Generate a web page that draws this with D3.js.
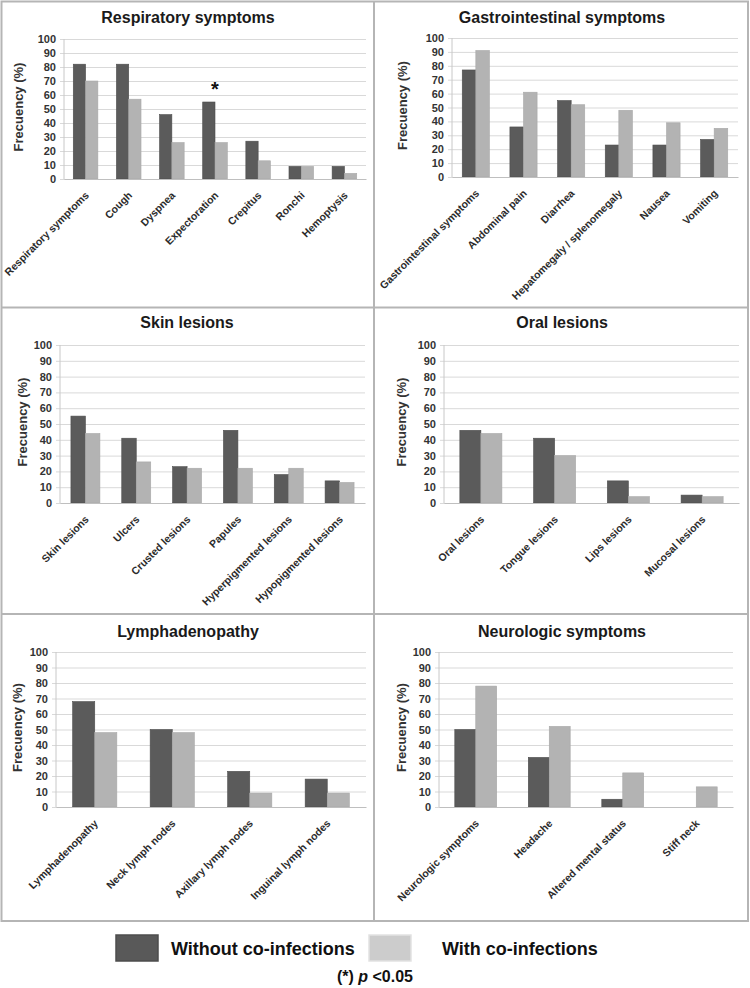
<!DOCTYPE html>
<html><head><meta charset="utf-8">
<script src="https://cdn.jsdelivr.net/npm/d3@7"></script>
<style>
html,body{margin:0;padding:0;background:#fff;}
svg{display:block;font-family:"Liberation Sans",Arial,sans-serif;}
</style></head>
<body>
<svg id="chart" width="750" height="988"></svg>
<script>
// ---------- data ----------
const panelTitles = ["Respiratory symptoms","Gastrointestinal symptoms","Skin lesions","Oral lesions","Lymphadenopathy","Neurologic symptoms"];
const respCats = ["Respiratory symptoms","Cough","Dyspnea","Expectoration","Crepitus","Ronchi","Hemoptysis"];
const respWithout = [82,82,46,55,27,9,9];
const respWith = [70,57,26,26,13,9,4];
const giCats = ["Gastrointestinal symptoms","Abdominal pain","Diarrhea","Hepatomegaly / splenomegaly","Nausea","Vomiting"];
const giWithout = [77,36,55,23,23,27];
const giWith = [91,61,52,48,39,35];
const skinCats = ["Skin lesions","Ulcers","Crusted lesions","Papules","Hyperpigmented lesions","Hypopigmented lesions"];
const skinWithout = [55,41,23,46,18,14];
const skinWith = [44,26,22,22,22,13];
const oralCats = ["Oral lesions","Tongue lesions","Lips lesions","Mucosal lesions"];
const oralWithout = [46,41,14,5];
const oralWith = [44,30,4,4];
const lymphCats = ["Lymphadenopathy","Neck lymph nodes","Axillary lymph nodes","Inguinal lymph nodes"];
const lymphWithout = [68,50,23,18];
const lymphWith = [48,48,9,9];
const neuroCats = ["Neurologic symptoms","Headache","Altered mental status","Stiff neck"];
const neuroWithout = [50,32,5,0];
const neuroWith = [78,52,22,13];
const yTicks = [0,10,20,30,40,50,60,70,80,90,100];
const yAxisTitle = "Frecuency (%)";
const seriesNames = ["Without co-infections","With co-infections"];
const significant = [{panel:0, category:"Expectoration", label:"*"}];
const footnote = "(*) p <0.05";

// ---------- layout / style ----------
const colors = ["#5b5b5b","#b3b3b3"];
const layout = [
  {x0:64, x1:366, yTop:39, yBot:179, tx:188, ty:23, ytx:18},
  {x0:452,x1:738, yTop:38, yBot:177, tx:562, ty:23, ytx:402},
  {x0:60, x1:365, yTop:345,yBot:503, tx:187, ty:328, ytx:22},
  {x0:444,x1:739, yTop:345,yBot:503, tx:562, ty:328, ytx:401},
  {x0:56, x1:366, yTop:652,yBot:807, tx:188, ty:637, ytx:17},
  {x0:439,x1:733, yTop:652,yBot:807, tx:562, ty:637, ytx:401}
];
const panels = [
  [respCats,respWithout,respWith],
  [giCats,giWithout,giWith],
  [skinCats,skinWithout,skinWith],
  [oralCats,oralWithout,oralWith],
  [lymphCats,lymphWithout,lymphWith],
  [neuroCats,neuroWithout,neuroWith]
];

const svg = d3.select("#chart");

// frame
const frame = svg.append("g").attr("stroke","#b5b5b5").attr("stroke-width",2).attr("fill","none");
frame.append("rect").attr("x",1.5).attr("y",1.5).attr("width",746.5).attr("height",919.5);
frame.append("line").attr("x1",374).attr("x2",374).attr("y1",1.5).attr("y2",921);
frame.append("line").attr("x1",1.5).attr("x2",748).attr("y1",307.5).attr("y2",307.5);
frame.append("line").attr("x1",1.5).attr("x2",748).attr("y1",614).attr("y2",614);

panels.forEach((p, i) => {
  const L = layout[i];
  const [cats, w0, w1] = p;
  const g = svg.append("g");
  const x = d3.scaleBand().domain(cats).range([L.x0, L.x1]).paddingInner(0.43).paddingOuter(0.215);
  const xs = d3.scaleBand().domain([0,1]).range([0, x.bandwidth()]);
  const y = d3.scaleLinear().domain([0,100]).range([L.yBot, L.yTop]);

  // y axis with gridlines
  const ya = g.append("g").attr("transform",`translate(${L.x0},0)`)
    .call(d3.axisLeft(y).tickValues(yTicks).tickSize(-(L.x1-L.x0)).tickPadding(8).tickFormat(d3.format("d")));
  ya.selectAll(".tick line").attr("x1",-4).attr("stroke","#d9d9d9");
  ya.selectAll(".tick text").attr("font-size",11).attr("font-weight","bold").attr("fill","#333")
    .attr("font-family","Liberation Sans, Arial, sans-serif");
  ya.select(".domain").remove();
  g.append("line").attr("x1",L.x0).attr("x2",L.x0).attr("y1",L.yTop).attr("y2",L.yBot).attr("stroke","#c8c8c8");

  // bars
  const series = [w0, w1];
  series.forEach((vals, s) => {
    g.append("g").selectAll("rect").data(cats).join("rect")
      .attr("x", (c) => x(c) + xs(s))
      .attr("width", xs.bandwidth())
      .attr("y", (c, k) => y(vals[k]))
      .attr("height", (c, k) => L.yBot - y(vals[k]))
      .attr("fill", colors[s])
      .attr("stroke", s === 0 ? "#4d4d4d" : "#a8a8a8").attr("stroke-width", 0.6);
  });

  // x axis
  const xa = g.append("g").attr("transform",`translate(0,${L.yBot})`)
    .call(d3.axisBottom(x).tickSize(0).tickPadding(0));
  xa.select(".domain").attr("stroke","#bfbfbf");
  xa.selectAll(".tick text")
    .attr("font-size",10.5).attr("font-weight","bold").attr("fill","#2b2b2b")
    .attr("font-family","Liberation Sans, Arial, sans-serif")
    .attr("text-anchor","end").attr("dy",null).attr("y",null)
    .attr("transform","translate(4,17) rotate(-45)");

  // titles
  g.append("text").attr("x",L.tx).attr("y",L.ty).attr("text-anchor","middle")
    .attr("font-size",16).attr("font-weight","bold").attr("fill","#1a1a1a").text(panelTitles[i]);
  g.append("text").attr("transform",`translate(${L.ytx},${(L.yTop+L.yBot)/2 - 2}) rotate(-90)`)
    .attr("text-anchor","middle").attr("dy","0.35em")
    .attr("font-size",13).attr("font-weight","bold").attr("fill","#333").text(yAxisTitle);

  // significance marks
  significant.filter(m => m.panel === i).forEach(m => {
    const k = cats.indexOf(m.category);
    g.append("text").attr("x", x(m.category) + x.bandwidth()/2)
      .attr("y", y(Math.max(w0[k], w1[k]) + 4)).attr("text-anchor","middle")
      .attr("font-size",20).attr("font-weight","bold").attr("fill","#111").text(m.label);
  });
});

// legend
const leg = svg.append("g");
const lx = [116, 369];
const tx = [171, 442];
seriesNames.forEach((n, s) => {
  leg.append("rect").attr("x", lx[s]).attr("y", 935).attr("width", 42).attr("height", 26)
    .attr("fill", s === 0 ? "#595959" : "#cccccc").attr("stroke", s === 0 ? "#4d4d4d" : "#e2e2e2").attr("stroke-width",1.5);
  leg.append("text").attr("x", tx[s]).attr("y", 955).attr("font-size", 18).attr("font-weight","bold")
    .attr("fill","#111").text(n);
});
const fn = leg.append("text").attr("x", 375).attr("y", 982).attr("text-anchor","middle")
  .attr("font-size",16).attr("font-weight","bold").attr("fill","#111");
fn.append("tspan").text("(*) ");
fn.append("tspan").attr("font-style","italic").text("p");
fn.append("tspan").text(" <0.05");
</script>
</body></html>
